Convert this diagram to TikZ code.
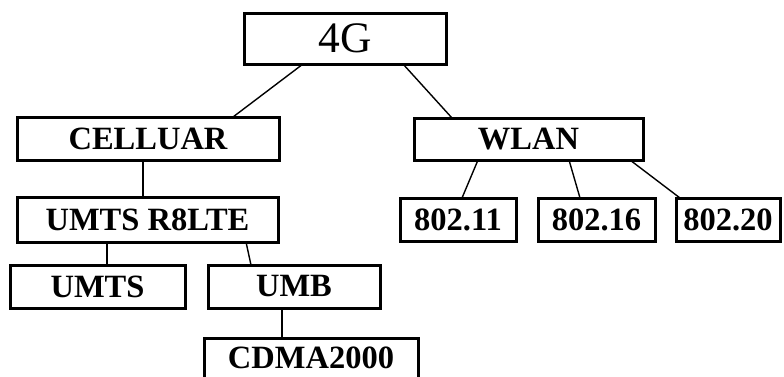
\documentclass[tikz,border=0pt]{standalone}
\usepackage{fontspec}
\setmainfont{Liberation Serif}
\usetikzlibrary{calc}
\begin{document}
\begin{tikzpicture}[x=1pt,y=1pt,
  box/.style={draw,line width=3pt,fill=white,outer sep=0pt,inner sep=0pt,
    font=\fontsize{32.5}{32.5}\selectfont\bfseries},
  conn/.style={line width=1.4pt}]
\useasboundingbox (0,0) rectangle (784,-376);
\node[box,minimum width=202pt,minimum height=51pt,font=\fontsize{43.5}{43.5}\selectfont] (g4) at (345,-38.5) {4G};
\node[box,minimum width=262pt,minimum height=43pt] (cell) at (148,-138.5) {CELLUAR};
\node[box,minimum width=229pt,minimum height=42pt] (wlan) at (528.5,-139) {WLAN};
\node[box,minimum width=261pt,minimum height=45pt] (lte) at (147.5,-219.5) {UMTS R8LTE};
\node[box,minimum width=116pt,minimum height=43pt] (w11) at (458,-219.5) {802.11};
\node[box,minimum width=117pt,minimum height=43pt] (w16) at (596.5,-219.5) {802.16};
\node[box,minimum width=104pt,minimum height=43pt] (w20) at (728,-219.5) {802.20};
\node[box,minimum width=175pt,minimum height=43pt] (umts) at (97.5,-286.5) {UMTS};
\node[box,minimum width=172pt,minimum height=43pt] (umb) at (294,-286.5) {UMB};
\node[box,minimum width=214pt,minimum height=40pt] (cdma) at (311,-358) {CDMA2000};
\draw[conn] ($(g4.south west)+(59,0)$) -- ($(cell.north west)+(216,0)$);
\draw[conn] ($(g4.south west)+(159,0)$) -- ($(wlan.north west)+(38,0)$);
\draw[conn] ($(cell.south west)+(126,0)$) -- ($(lte.north west)+(126,0)$);
\draw[conn] ($(wlan.south west)+(64,0)$) -- ($(w11.north west)+(62,0)$);
\draw[conn] ($(wlan.south west)+(155,0)$) -- ($(w16.north west)+(42,0)$);
\draw[conn] ($(wlan.south west)+(216,0)$) -- ($(w20.north west)+(4,0)$);
\draw[conn] ($(lte.south west)+(90,0)$) -- ($(umts.north west)+(97,0)$);
\draw[conn] ($(lte.south west)+(229,0)$) -- ($(umb.north west)+(43,0)$);
\draw[conn] ($(umb.south west)+(74,0)$) -- ($(cdma.north west)+(78,0)$);
\end{tikzpicture}
\end{document}
